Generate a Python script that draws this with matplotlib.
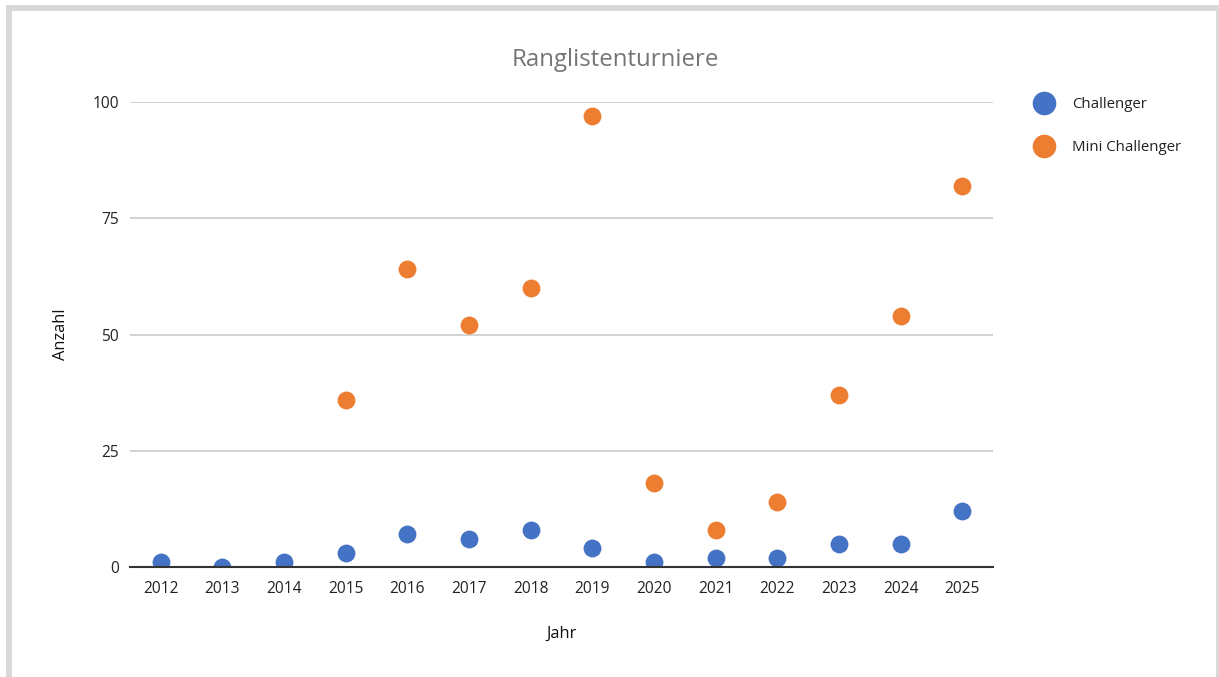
import matplotlib.pyplot as plt
from matplotlib.patches import Rectangle
from matplotlib.lines import Line2D

# data
years = ['2012', '2013', '2014', '2015', '2016', '2017', '2018',
         '2019', '2020', '2021', '2022', '2023', '2024', '2025']
challenger = [1, 0, 1, 3, 7, 6, 8, 4, 1, 2, 2, 5, 5, 12]
mini_years = ['2015', '2016', '2017', '2018', '2019', '2020',
              '2021', '2022', '2023', '2024', '2025']
mini_challenger = [36, 64, 52, 60, 97, 18, 8, 14, 37, 54, 82]
y_ticks = [0, 25, 50, 75, 100]

blue = '#4472C4'
orange = '#ED7D31'
plt.rcParams['font.family'] = ['Open Sans', 'DejaVu Sans']

W, H = 1219, 677
fig = plt.figure(figsize=(W / 100, H / 100), dpi=100)


def frame_strip(x0, y0, x1, y1):
    # pixel box (top-left origin) -> figure fraction rectangle
    fig.patches.append(Rectangle((x0 / W, 1 - y1 / H), (x1 - x0) / W, (y1 - y0) / H,
                                 transform=fig.transFigure, facecolor='#d9d9d9',
                                 edgecolor='none'))


# grey frame: top, left and right edges only
frame_strip(6, 5, 1219, 11)
frame_strip(6, 5, 12, 677)
frame_strip(1216, 5, 1219, 677)

ax = fig.add_axes([0.1066, 0.1625, 0.7080, 0.6868])
x_idx = {y: i for i, y in enumerate(years)}

ax.scatter([x_idx[y] for y in years], challenger, s=165, color=blue,
           zorder=3, linewidths=0)
ax.scatter([x_idx[y] for y in mini_years], mini_challenger, s=165, color=orange,
           zorder=3, linewidths=0)

ax.set_xlim(-0.5, len(years) - 0.5)
ax.set_ylim(0, 100)
ax.set_xticks(range(len(years)))
ax.set_xticklabels(years)
ax.set_yticks(y_ticks)
ax.tick_params(axis='both', length=0, labelsize=11.2, colors='#222222', pad=10)
ax.tick_params(axis='y', pad=8)

for v in y_ticks[1:]:
    ax.axhline(v, color='#c6c6c6', linewidth=1.1, zorder=1)
ax.axhline(0, color='#333333', linewidth=1.5, zorder=4, clip_on=False)

for s in ax.spines.values():
    s.set_visible(False)

ax.set_xlabel('Jahr', fontsize=11.8, color='#111111', labelpad=21)
ax.set_ylabel('Anzahl', fontsize=11.8, color='#111111', labelpad=17)
fig.text(0.505, 0.912, 'Ranglistenturniere', ha='center', va='center',
         fontsize=17.3, color='#757575')

handles = [Line2D([], [], marker='o', linestyle='', markersize=17, color=blue,
                  markeredgewidth=0),
           Line2D([], [], marker='o', linestyle='', markersize=17, color=orange,
                  markeredgewidth=0)]
fig.legend(handles, ['Challenger', 'Mini Challenger'], loc='upper left',
           bbox_to_anchor=(0.833, 0.877), frameon=False, fontsize=10.8,
           labelspacing=1.9, handletextpad=0.85, labelcolor='#222222')

fig.savefig('out.png', dpi=100)
